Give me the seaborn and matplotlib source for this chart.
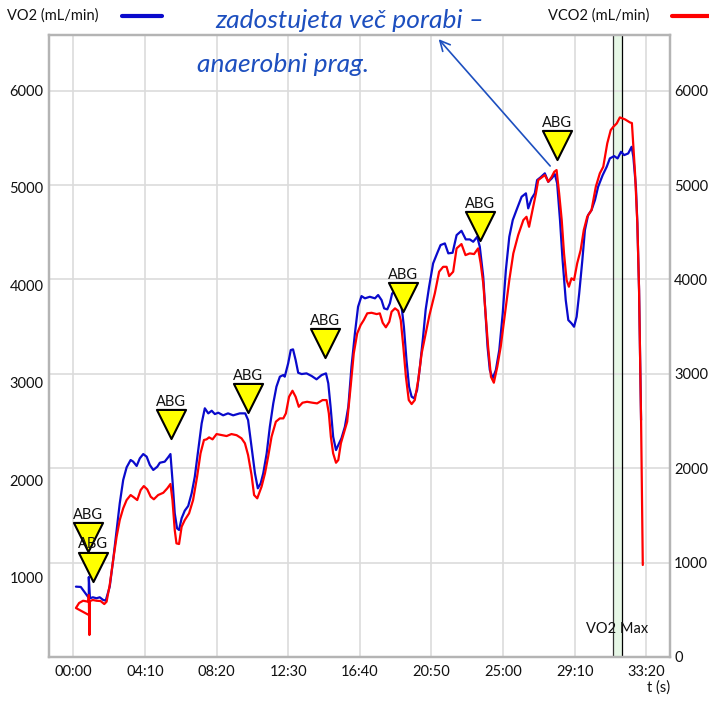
import seaborn as sns
import matplotlib.pyplot as plt
import matplotlib.transforms as mtransforms
from matplotlib.lines import Line2D
from matplotlib.ticker import FuncFormatter

# tempo in secondi, VO2 / VCO2 in mL/min
vo2_t = [9, 26, 54, 54, 58, 68, 81, 92, 104, 113, 127, 139, 151, 162, 174, 186, 200, 209, 221, 232,
         244, 256, 267, 279, 293, 302, 319, 331, 339, 346, 354, 362, 369, 378, 389, 401, 413, 424, 436, 448,
         459, 471, 483, 494, 506, 523, 540, 558, 581, 600, 610, 622, 634, 644, 654, 663, 675, 686, 698, 709,
         721, 733, 738, 750, 759, 767, 776, 785, 797, 814, 832, 849, 867, 882, 890, 898, 907, 917, 925, 936,
         948, 960, 971, 983, 994, 1006, 1018, 1035, 1053, 1064, 1076, 1085, 1096, 1105, 1113, 1123, 1134, 1146, 1154, 1163,
         1172, 1181, 1190, 1200, 1210, 1221, 1230, 1242, 1256, 1270, 1282, 1297, 1309, 1324, 1338, 1355, 1370, 1384, 1396, 1410,
         1419, 1431, 1439, 1446, 1454, 1464, 1475, 1487, 1499, 1510, 1522, 1534, 1547, 1565, 1580, 1588, 1600, 1611, 1619, 1631,
         1646, 1658, 1670, 1681, 1689, 1699, 1708, 1719, 1728, 1739, 1748, 1757, 1766, 1777, 1786, 1797, 1809, 1821, 1832, 1848,
         1862, 1873, 1888, 1900, 1912, 1923, 1937, 1949, 1955, 1964, 1969, 1975, 1982]
vo2 = [911, 908, 795, 1010, 792, 802, 792, 802, 775, 768, 911, 1184, 1492, 1765, 2004, 2134, 2209, 2192, 2148, 2226,
       2270, 2243, 2158, 2107, 2140, 2181, 2192, 2237, 2270, 2004, 1663, 1509, 1492, 1612, 1690, 1738, 1868, 2038, 2311, 2585,
       2739, 2687, 2714, 2680, 2694, 2667, 2687, 2667, 2687, 2687, 2619, 2345, 2073, 1919, 1970, 2073, 2278, 2550, 2790, 2960,
       3063, 3080, 3063, 3200, 3336, 3343, 3234, 3103, 3090, 3097, 3070, 3036, 3080, 3097, 2995, 2755, 2448, 2311, 2363, 2431,
       2550, 2755, 3165, 3507, 3780, 3889, 3866, 3882, 3866, 3900, 3848, 3763, 3753, 3814, 3917, 3933, 3900, 3780, 3575, 3234,
       2960, 2858, 2841, 2926, 3165, 3472, 3750, 3985, 4224, 4327, 4412, 4429, 4327, 4333, 4514, 4558, 4470, 4470, 4446, 4497,
       4394, 4087, 3712, 3370, 3131, 3046, 3131, 3336, 3712, 4156, 4497, 4668, 4770, 4907, 4942, 4788, 4890, 4942, 5078, 5106,
       5147, 5060, 5095, 5139, 5044, 4668, 4258, 3848, 3643, 3610, 3575, 3677, 3917, 4258, 4566, 4719, 4770, 4873, 5009, 5129,
       5214, 5300, 5324, 5300, 5368, 5334, 5351, 5419, 5317, 5009, 4637, 3951, 2619]

vco2_t = [54, 9, 20, 34, 52, 54, 56, 58, 68, 81, 95, 108, 116, 127, 139, 151, 162, 174, 186, 200,
          211, 223, 235, 246, 258, 270, 281, 296, 314, 328, 339, 346, 354, 360, 369, 378, 389, 404, 418, 432,
          444, 456, 465, 474, 486, 500, 517, 535, 552, 570, 587, 599, 610, 622, 631, 642, 657, 669, 680, 692,
          707, 721, 733, 742, 753, 765, 776, 787, 800, 816, 835, 851, 870, 884, 892, 899, 907, 917, 925, 934,
          944, 956, 968, 979, 991, 1003, 1014, 1026, 1041, 1059, 1070, 1080, 1091, 1103, 1111, 1123, 1134, 1143, 1152, 1161,
          1171, 1181, 1192, 1204, 1216, 1227, 1243, 1262, 1277, 1291, 1303, 1312, 1326, 1338, 1355, 1369, 1384, 1399, 1413, 1422,
          1431, 1439, 1448, 1458, 1468, 1480, 1492, 1507, 1522, 1536, 1553, 1571, 1582, 1591, 1603, 1615, 1623, 1635, 1646, 1658,
          1670, 1679, 1687, 1696, 1705, 1713, 1722, 1730, 1739, 1748, 1759, 1771, 1782, 1794, 1809, 1824, 1838, 1850, 1864, 1876,
          1885, 1897, 1908, 1926, 1943, 1950, 1961, 1969, 1975, 1982, 1988]
vco2 = [445, 519, 572, 596, 586, 657, 233, 593, 604, 596, 593, 561, 586, 763, 1028, 1274, 1451, 1575, 1663, 1716,
        1692, 1663, 1769, 1811, 1776, 1698, 1671, 1716, 1740, 1787, 1833, 1663, 1345, 1204, 1197, 1380, 1451, 1522, 1663, 1910,
        2158, 2299, 2306, 2327, 2306, 2362, 2352, 2341, 2362, 2350, 2317, 2264, 2140, 1930, 1716, 1681, 1804, 1946, 2122, 2334,
        2493, 2528, 2528, 2581, 2757, 2821, 2757, 2651, 2694, 2704, 2694, 2687, 2722, 2722, 2581, 2334, 2158, 2058, 2087, 2264,
        2370, 2493, 2863, 3217, 3429, 3517, 3570, 3641, 3647, 3633, 3641, 3541, 3493, 3552, 3658, 3694, 3668, 3570, 3287, 2969,
        2722, 2680, 2722, 2934, 3217, 3380, 3620, 3853, 4082, 4134, 4134, 4036, 4082, 4329, 4375, 4258, 4276, 4269, 4329, 4171,
        3959, 3641, 3287, 2969, 2906, 3075, 3287, 3641, 3994, 4276, 4470, 4629, 4664, 4558, 4735, 4912, 5053, 5081, 5106, 5035,
        5088, 5141, 5159, 4912, 4629, 4276, 3994, 3923, 4012, 3994, 4171, 4311, 4523, 4664, 4735, 4982, 5124, 5194, 5442, 5582,
        5617, 5653, 5717, 5696, 5664, 5657, 5124, 4594, 3888, 2511, 975]

# prelievi ABG (tempo, posizione sulla scala destra)
abg_t = [51, 70, 340, 609, 879, 1150, 1419, 1689]
abg_y = [1271, 957, 2465, 2744, 3323, 3817, 4566, 5420]

vo2max_start, vo2max_end = 1884, 1915
x_ticks = [0, 250, 500, 750, 1000, 1250, 1500, 1750, 2000]
left_ticks = [1000, 2000, 3000, 4000, 5000, 6000]
right_ticks = [0, 1000, 2000, 3000, 4000, 5000, 6000]
left_lim = (190, 6565)
right_lim = (0, 6590)

BLUE = '#0a0acc'
RED = '#ff0000'
INK = '#1d4fbf'
GRID = '#dcdcdc'

sns.set_theme(style="white")
plt.rcParams['font.family'] = ['Lato', 'DejaVu Sans']

fig = plt.figure(figsize=(7.09, 7.01), dpi=100)
ax = fig.add_axes([49/709, 44/701, 621/709, 622/701])
ax2 = ax.twinx()

ax.set_xlim(-85, 2083)
ax.set_ylim(*left_lim)
ax2.set_ylim(*right_lim)

# griglia orizzontale allineata alla scala destra
grid_pos = [left_lim[0] + v / right_lim[1] * (left_lim[1] - left_lim[0]) for v in right_ticks]
ax.set_yticks(grid_pos, minor=True)
ax.set_xticks(x_ticks)
ax.set_yticks(left_ticks)
ax2.set_yticks(right_ticks)
ax.grid(axis='x', color=GRID, lw=1.2)
ax.grid(axis='y', which='minor', color=GRID, lw=1.2)
ax.grid(axis='y', which='major', visible=False)
ax2.grid(False)

ax.xaxis.set_major_formatter(FuncFormatter(lambda v, p: f"{int(v)//60:02d}:{int(v)%60:02d}"))
ax.tick_params(axis='both', which='both', length=0, labelsize=10.5, colors='#111111')
ax.tick_params(axis='x', pad=6)
ax.tick_params(axis='y', pad=4)
ax2.tick_params(axis='y', length=0, labelsize=10.5, colors='#111111', pad=3)

for a in (ax, ax2):
    for s in a.spines.values():
        s.set_color('#b4b4b4')
        s.set_linewidth(1.6)

ax.set_xlabel('t (s)', loc='right', fontsize=10.5, labelpad=1, color='#111111')

# zona VO2 max
ax.axvspan(vo2max_start, vo2max_end, color='#e6f7e6', zorder=0.5, lw=0)
ax.axvline(vo2max_start, color='#333333', lw=0.9, zorder=1)
ax.axvline(vo2max_end, color='black', lw=0.9, zorder=1)
trans = mtransforms.blended_transform_factory(ax.transData, ax.transAxes)
ax.text((vo2max_start + vo2max_end) / 2, 0.045, 'VO2 Max', transform=trans,
        ha='center', va='center', fontsize=10.5, color='#111111')

# curve
sns.lineplot(x=vo2_t, y=vo2, sort=False, estimator=None, ax=ax, color=BLUE, lw=1.6, zorder=2)
sns.lineplot(x=vco2_t, y=vco2, sort=False, estimator=None, ax=ax2, color=RED, lw=1.6, zorder=2)
ax.set_ylabel('')
ax2.set_ylabel('')

# marcatori ABG
sns.scatterplot(x=abg_t, y=abg_y, ax=ax2, marker='v', s=440, color='#ffff00',
                edgecolor='black', linewidth=1.5, zorder=5, legend=False)
for t, y in zip(abg_t, abg_y):
    ax2.annotate('ABG', (t, y), xytext=(0, 16), textcoords='offset points',
                 ha='center', va='center', fontsize=10.5, color='#111111', zorder=6)

# annotazione scritta a mano
ax2.annotate('', xy=(1269, 6568), xytext=(1671, 5180), annotation_clip=False,
             arrowprops=dict(arrowstyle='->', color=INK, lw=1.2, mutation_scale=18))
fig.text(215/709, 1 - 20/701, 'zadostujeta več porabi –', fontsize=19, style='italic',
         color=INK, ha='left', va='center')
fig.text(197/709, 1 - 65/701, 'anaerobni prag.', fontsize=19, style='italic',
         color=INK, ha='left', va='center')

# intestazioni delle serie
fig.text(7/709, 1 - 16/701, 'VO2 (mL/min)', fontsize=10.5, ha='left', va='center', color='#111111')
fig.add_artist(Line2D([122/709, 162/709], [1 - 16/701] * 2, color=BLUE, lw=3))
fig.text(548/709, 1 - 16/701, 'VCO2 (mL/min)', fontsize=10.5, ha='left', va='center', color='#111111')
fig.add_artist(Line2D([672/709, 709/709], [1 - 16/701] * 2, color=RED, lw=3))

fig.savefig('out.png', dpi=100)
